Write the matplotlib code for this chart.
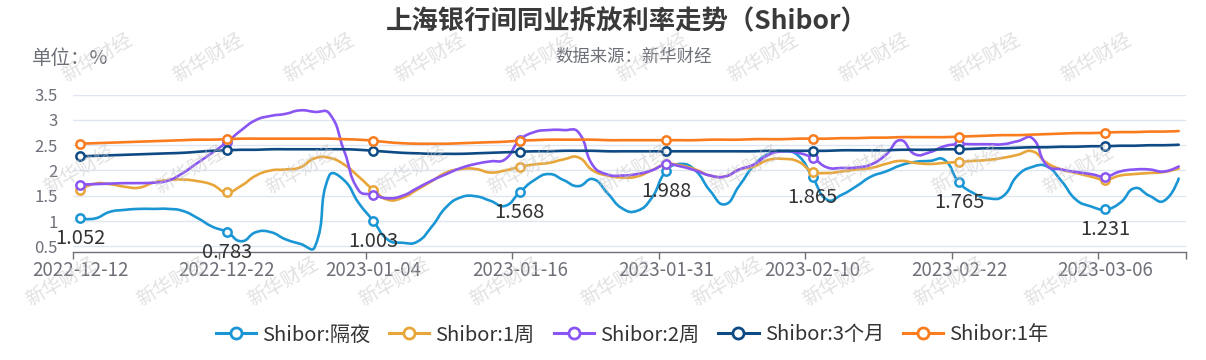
import numpy as np
import matplotlib
matplotlib.use("Agg")
import matplotlib.pyplot as plt
from matplotlib.path import Path
from matplotlib.patches import PathPatch
from matplotlib.lines import Line2D

plt.rcParams['font.family'] = ['Noto Sans CJK SC', 'DejaVu Sans']

# 数据（按交易日顺序，共 76 个点）
tick_labels = ['2022-12-12', '2022-12-22', '2023-01-04', '2023-01-16',
               '2023-01-31', '2023-02-10', '2023-02-22', '2023-03-06']
label_step = 10

shibor_on = [1.052, 1.05, 1.18, 1.22, 1.24, 1.24, 1.24, 1.20, 1.06, 0.89,
             0.783, 0.60, 0.78, 0.78, 0.64, 0.55, 0.48, 1.90, 1.81, 1.36,
             1.003, 0.63, 0.57, 0.59, 0.89, 1.28, 1.47, 1.49, 1.40, 1.30,
             1.568, 1.81, 1.93, 1.81, 1.69, 1.83, 1.55, 1.25, 1.20, 1.45,
             1.988, 2.13, 2.00, 1.60, 1.33, 1.70, 2.10, 2.33, 2.38, 2.30,
             1.865, 1.42, 1.52, 1.69, 1.88, 1.98, 2.10, 2.17, 2.19, 2.21,
             1.765, 1.55, 1.45, 1.49, 1.90, 2.07, 2.08, 1.79, 1.42, 1.29,
             1.231, 1.36, 1.65, 1.50, 1.40, 1.84]
shibor_1w = [1.62, 1.74, 1.73, 1.68, 1.66, 1.76, 1.81, 1.82, 1.79, 1.72,
             1.57, 1.70, 1.90, 2.00, 2.02, 2.06, 2.24, 2.25, 2.12, 1.88,
             1.62, 1.42, 1.46, 1.62, 1.79, 1.96, 2.03, 2.03, 1.96, 2.00,
             2.07, 2.12, 2.15, 2.22, 2.26, 2.00, 1.90, 1.86, 1.88, 2.00,
             2.12, 2.10, 2.02, 1.90, 1.88, 2.02, 2.08, 2.21, 2.23, 2.18,
             1.98, 1.95, 1.98, 2.02, 2.05, 2.13, 2.19, 2.15, 2.13, 2.15,
             2.17, 2.19, 2.21, 2.25, 2.31, 2.38, 2.15, 2.02, 1.95, 1.88,
             1.82, 1.90, 1.93, 1.95, 1.97, 2.04]
shibor_2w = [1.72, 1.73, 1.74, 1.75, 1.75, 1.76, 1.80, 1.95, 2.15, 2.35,
             2.56, 2.80, 3.00, 3.08, 3.12, 3.19, 3.16, 3.13, 2.40, 1.61,
             1.52, 1.45, 1.50, 1.65, 1.80, 1.93, 2.05, 2.13, 2.18, 2.22,
             2.60, 2.76, 2.80, 2.80, 2.76, 2.10, 1.92, 1.90, 1.93, 2.00,
             2.12, 2.08, 2.00, 1.90, 1.88, 2.02, 2.12, 2.31, 2.38, 2.35,
             2.25, 2.06, 2.05, 2.06, 2.12, 2.31, 2.60, 2.32, 2.36, 2.48,
             2.52, 2.52, 2.52, 2.52, 2.58, 2.64, 2.10, 2.02, 1.97, 1.93,
             1.88, 1.98, 2.02, 2.02, 1.98, 2.08]
shibor_3m = [2.28, 2.29, 2.30, 2.31, 2.32, 2.33, 2.34, 2.35, 2.37, 2.39,
             2.40, 2.41, 2.41, 2.42, 2.42, 2.42, 2.42, 2.42, 2.42, 2.41,
             2.39, 2.37, 2.35, 2.34, 2.33, 2.33, 2.33, 2.34, 2.35, 2.36,
             2.37, 2.38, 2.38, 2.39, 2.39, 2.39, 2.38, 2.38, 2.38, 2.38,
             2.38, 2.38, 2.38, 2.38, 2.38, 2.38, 2.38, 2.39, 2.39, 2.39,
             2.39, 2.39, 2.40, 2.40, 2.40, 2.40, 2.41, 2.41, 2.41, 2.42,
             2.42, 2.43, 2.44, 2.44, 2.45, 2.46, 2.46, 2.47, 2.47, 2.48,
             2.48, 2.49, 2.49, 2.50, 2.50, 2.51]
shibor_1y = [2.53, 2.54, 2.55, 2.56, 2.57, 2.58, 2.59, 2.60, 2.61, 2.61,
             2.62, 2.63, 2.63, 2.63, 2.63, 2.63, 2.63, 2.63, 2.62, 2.61,
             2.59, 2.56, 2.54, 2.53, 2.53, 2.53, 2.54, 2.55, 2.56, 2.57,
             2.59, 2.60, 2.61, 2.61, 2.61, 2.61, 2.60, 2.60, 2.60, 2.60,
             2.60, 2.60, 2.60, 2.61, 2.61, 2.61, 2.62, 2.62, 2.62, 2.63,
             2.63, 2.63, 2.64, 2.64, 2.65, 2.65, 2.66, 2.66, 2.66, 2.66,
             2.67, 2.68, 2.69, 2.70, 2.70, 2.71, 2.72, 2.73, 2.74, 2.74,
             2.75, 2.76, 2.76, 2.77, 2.77, 2.78]

series = [
    ('Shibor:隔夜', shibor_on, '#1a96d4'),
    ('Shibor:1周', shibor_1w, '#e8a63a'),
    ('Shibor:2周', shibor_2w, '#8a55f2'),
    ('Shibor:3个月', shibor_3m, '#0e4a84'),
    ('Shibor:1年', shibor_1y, '#f97c1e'),
]

W, H = 1206, 360
fig = plt.figure(figsize=(W / 100, H / 100), dpi=100, facecolor='white')
ax = fig.add_axes([73 / W, 1 - 252 / H, (1186 - 73) / W, (252 - 94.7) / H])

n = len(shibor_on)
idx = np.arange(n)
ax.set_xlim(-0.5, n - 0.5)
ax.set_ylim(0.387, 3.5)


def echarts_smooth(xs, ys, k=0.5):
    # 仿 ECharts smooth 曲线：按像素长度分配控制点
    bb = ax.get_window_extent()
    x0, x1 = ax.get_xlim()
    y0, y1 = ax.get_ylim()
    sx = bb.width / (x1 - x0)
    sy = bb.height / (y1 - y0)
    verts = [(xs[0], ys[0])]
    codes = [Path.MOVETO]
    cp0 = (xs[0], ys[0])
    for i in range(1, len(xs)):
        x, y = xs[i], ys[i]
        if i == len(xs) - 1:
            cp1 = (x, y)
            nxt = (x, y)
        else:
            px, py = xs[i - 1], ys[i - 1]
            nx, ny = xs[i + 1], ys[i + 1]
            vx, vy = nx - px, ny - py
            lp = np.hypot((x - px) * sx, (y - py) * sy)
            ln = np.hypot((nx - x) * sx, (ny - y) * sy)
            r = ln / (ln + lp) if (ln + lp) > 0 else 0.5
            cp1 = (x - vx * k * (1 - r), y - vy * k * (1 - r))
            nxt = (x + vx * k * r, y + vy * k * r)
        verts += [cp0, cp1, (x, y)]
        codes += [Path.CURVE4] * 3
        cp0 = nxt
    return Path(verts, codes)


for z, (name, vals, col) in enumerate(series):
    path = echarts_smooth(idx, vals)
    ax.add_patch(PathPatch(path, fill=False, edgecolor=col, lw=1.9,
                           capstyle='round', joinstyle='round', zorder=3 + z * 0.1))
    ax.plot(idx[::label_step], np.array(vals)[::label_step], 'o', ls='none',
            ms=6, mfc='white', mec=col, mew=1.8, zorder=4 + z * 0.1)

# 隔夜利率数据标签
for i in idx[::label_step]:
    ax.annotate(f'{shibor_on[i]:.3f}', (i, shibor_on[i]), xytext=(0, -14.5),
                textcoords='offset points', ha='center', va='center',
                fontsize=14.5, color='#333333', zorder=6, annotation_clip=False)

# 坐标轴样式
ax.set_yticks([0.5, 1, 1.5, 2, 2.5, 3, 3.5])
ax.set_yticklabels(['0.5', '1', '1.5', '2', '2.5', '3', '3.5'])
ax.grid(axis='y', color='#e0e6f1', lw=1)
ax.set_axisbelow(True)
ax.tick_params(axis='y', length=0, pad=11, labelsize=12, labelcolor='#6e7079')

ax.set_xticks(idx[::label_step])
ax.set_xticklabels(tick_labels)
ax.set_xticks(list(idx[::label_step] - 0.5) + [n - 0.5], minor=True)
ax.tick_params(axis='x', which='major', length=0, pad=6, labelsize=13.5,
               labelcolor='#6e7079')
ax.tick_params(axis='x', which='minor', length=5, width=1, color='#6e7079')

for s in ['top', 'right', 'left']:
    ax.spines[s].set_visible(False)
ax.spines['bottom'].set_color('#6e7079')
ax.spines['bottom'].set_linewidth(1)

# 标题与说明
fig.text(627 / W, 1 - 22 / H, '上海银行间同业拆放利率走势（Shibor）', ha='center', va='center',
         fontsize=19, fontweight='bold', color='#3a3a3a')
fig.text(633 / W, 1 - 57 / H, '数据来源：新华财经', ha='center', va='center',
         fontsize=12.5, color='#6e7079')
fig.text(32 / W, 1 - 59 / H, '单位：%', ha='left', va='center',
         fontsize=14, color='#6e7079')

# 图例
handles = [Line2D([], [], color=col, lw=2.2, marker='o', ms=8, mfc='white',
                  mec=col, mew=2) for _, _, col in series]
fig.legend(handles, [s[0] for s in series], loc='center', ncol=5,
           bbox_to_anchor=(632 / W, 1 - 335 / H), frameon=False,
           fontsize=14.5, handlelength=2.0, handletextpad=0.3,
           columnspacing=0.95, labelcolor='#333333')

# 水印（只放完整落在画面内的）
for r in range(0, 3):
    for k in range(-1, 12):
        wx = 97 - 18 * r + 111 * k
        wy = 58 + 112 * r
        if wx - 40 < 0 or wx + 40 > W:
            continue
        fig.text(wx / W, 1 - wy / H, '新华财经', ha='center', va='center',
                 rotation=30, fontsize=14, color='#c4c4c4', alpha=0.5, zorder=10)

fig.savefig('out.png', dpi=100, facecolor='white')
